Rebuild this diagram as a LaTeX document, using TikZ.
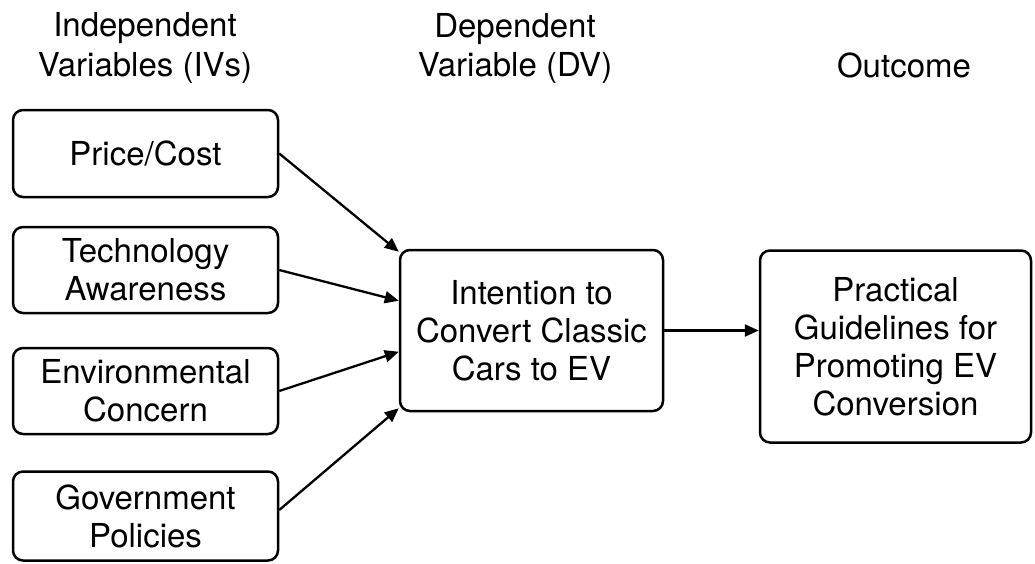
\documentclass[tikz,border=0pt]{standalone}
\usepackage{fontspec}
\setmainfont{TeX Gyre Heros}
\usetikzlibrary{arrows.meta}
\tikzset{
  box/.style={draw=black, line width=2.5pt, rounded corners=10pt, align=center, inner sep=0pt,
    font=\fontsize{33}{38}\selectfont},
  head/.style={align=center, inner sep=0pt, font=\fontsize{33}{40}\selectfont},
  conn/.style={line width=2.3pt, -{Triangle[length=14pt,width=12pt]}}
}
\begin{document}
\begin{tikzpicture}[x=1pt,y=-1pt]
\useasboundingbox (0,0) rectangle (1035,563);
\node[head, anchor=base] (h1) at (145,36) {Independent};
\node[head, anchor=base] (h1b) at (145,76) {Variables (IVs)};
\node[head, anchor=base] (h2) at (515,37) {Dependent};
\node[head, anchor=base] (h2b) at (515,76) {Variable (DV)};
\node[head, anchor=base] (h3) at (904,77) {Outcome};
\node[box, minimum width=265pt, minimum height=87pt] (pc) at (145.5,153.5) {Price/Cost};
\node[box, minimum width=265pt, minimum height=86pt] (ta) at (145.5,270) {Technology\\Awareness};
\node[box, minimum width=265pt, minimum height=86pt] (ec) at (145.5,391) {Environmental\\Concern};
\node[box, minimum width=265pt, minimum height=89pt] (gp) at (145.5,516) {Government\\Policies};
\node[box, minimum width=263pt, minimum height=161pt] (iv) at (531.5,330.5) {Intention to\\Convert Classic\\Cars to EV};
\node[box, minimum width=271pt, minimum height=192pt] (pg) at (895.5,346.5) {Practical\\Guidelines for\\Promoting EV\\Conversion};
\draw[conn] (pc.east) -- ([yshift=-3pt]iv.north west);
\draw[conn] (ta.east) -- ([yshift=-52pt]iv.north west);
\draw[conn] (ec.east) -- ([yshift=-103pt]iv.north west);
\draw[conn] ([yshift=6pt]gp.east) -- ([yshift=4pt]iv.south west);
\draw[conn] (iv.east) -- (pg.west |- iv.east);
\end{tikzpicture}
\end{document}
